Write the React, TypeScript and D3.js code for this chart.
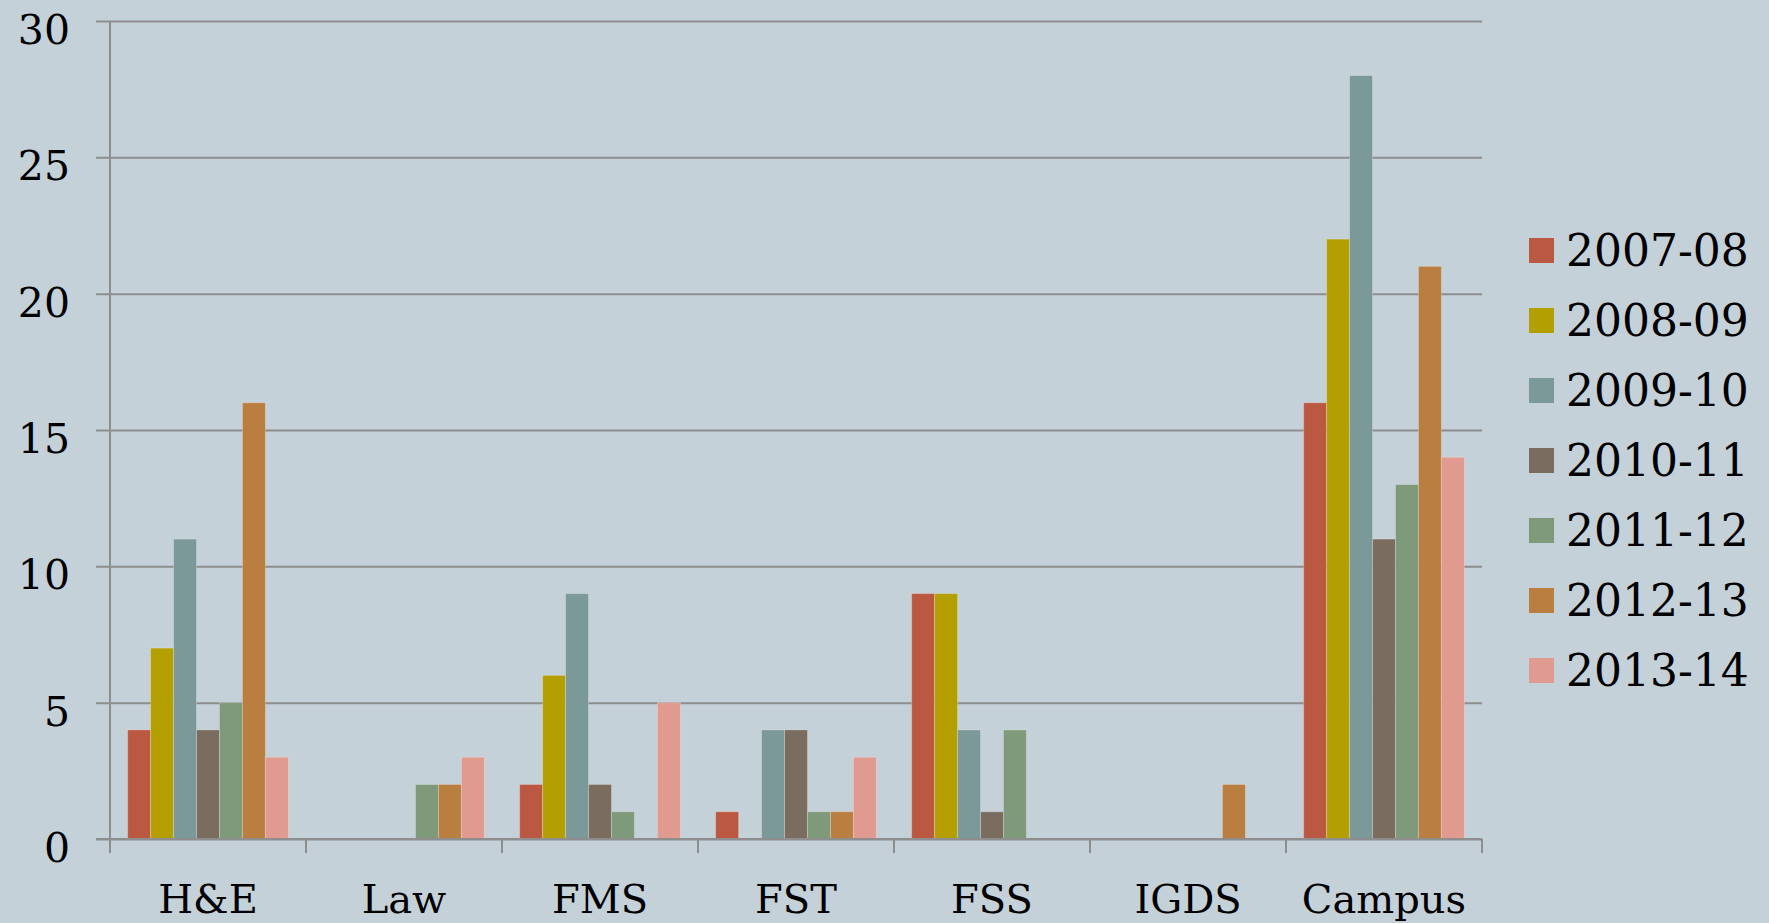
import * as d3 from 'd3';
import { useEffect, useRef } from 'react';

const categories = ['H&E', 'Law', 'FMS', 'FST', 'FSS', 'IGDS', 'Campus'];
const years = ['2007-08', '2008-09', '2009-10', '2010-11', '2011-12', '2012-13', '2013-14'];
const colors = ['#BB5841', '#B49F00', '#7B9999', '#7A6C5F', '#7F9A7A', '#B97E40', '#E09A90'];

// one array per year, in category order
const v0708 = [4, 0, 2, 1, 9, 0, 16];
const v0809 = [7, 0, 6, 0, 9, 0, 22];
const v0910 = [11, 0, 9, 4, 4, 0, 28];
const v1011 = [4, 0, 2, 4, 1, 0, 11];
const v1112 = [5, 2, 1, 1, 4, 0, 13];
const v1213 = [16, 2, 0, 1, 0, 2, 21];
const v1314 = [3, 3, 5, 3, 0, 0, 14];
const series = [v0708, v0809, v0910, v1011, v1112, v1213, v1314];

const yTicks = [0, 5, 10, 15, 20, 25, 30];

const App = () => {
  const svgRef = useRef<SVGSVGElement | null>(null);

  useEffect(() => {
    const width = 1769;
    const height = 923;
    const margin = { top: 21, right: 287, bottom: 84, left: 110 };
    const font = '"DejaVu Serif", "Liberation Serif", serif';

    const svg = d3.select(svgRef.current)
      .attr('width', width)
      .attr('height', height);
    svg.selectAll('*').remove();

    svg.append('rect')
      .attr('width', width)
      .attr('height', height)
      .attr('fill', '#C5D1D8');

    const x0 = d3.scaleBand<string>()
      .domain(categories)
      .range([margin.left, width - margin.right])
      .paddingInner(0.18)
      .paddingOuter(0.09);

    const x1 = d3.scaleBand<string>()
      .domain(years)
      .range([0, x0.bandwidth()]);

    const y = d3.scaleLinear()
      .domain([0, 30])
      .range([height - margin.bottom, margin.top]);

    // gridlines + y labels
    const yAxis = svg.append('g')
      .attr('transform', `translate(${margin.left},0)`)
      .call(d3.axisLeft(y).tickValues(yTicks).tickSize(14).tickPadding(26).tickFormat(d3.format('d')));
    yAxis.select('.domain').remove();
    yAxis.selectAll('.tick line')
      .attr('x2', -14)
      .attr('x1', width - margin.right - margin.left)
      .attr('stroke', '#8E8E8E')
      .attr('stroke-width', 2);
    yAxis.selectAll('.tick text')
      .attr('font-family', font)
      .attr('font-size', 41)
      .attr('fill', '#000')
      .attr('dy', '0.55em');

    // bars
    const groups = svg.append('g')
      .selectAll('g')
      .data(categories)
      .join('g')
      .attr('transform', (d) => `translate(${x0(d)},0)`);

    groups.selectAll('rect')
      .data((_c, i) => years.map((yr, j) => ({ yr, j, v: series[j][i] })))
      .join('rect')
      .filter((d) => d.v > 0)
      .attr('x', (d) => x1(d.yr)!)
      .attr('width', x1.bandwidth())
      .attr('y', (d) => y(d.v))
      .attr('height', (d) => y(0) - y(d.v))
      .attr('fill', (d) => colors[d.j])
      .attr('stroke', 'rgba(255,255,255,0.25)')
      .attr('stroke-width', 1);

    // x axis
    const xStep = x0.step();
    const xAxis = svg.append('g')
      .attr('transform', `translate(0,${y(0)})`);
    xAxis.append('line')
      .attr('x1', margin.left - 14)
      .attr('x2', width - margin.right)
      .attr('stroke', '#8E8E8E')
      .attr('stroke-width', 2);
    xAxis.append('line')
      .attr('x1', margin.left)
      .attr('x2', margin.left)
      .attr('y1', y(30) - y(0))
      .attr('y2', 14)
      .attr('stroke', '#8E8E8E')
      .attr('stroke-width', 2);
    xAxis.selectAll('line.tk')
      .data(categories)
      .join('line')
      .attr('class', 'tk')
      .attr('x1', (d) => x0(d)! - xStep * 0.09 + xStep)
      .attr('x2', (d) => x0(d)! - xStep * 0.09 + xStep)
      .attr('y1', 0)
      .attr('y2', 14)
      .attr('stroke', '#8E8E8E')
      .attr('stroke-width', 2);
    xAxis.selectAll('text')
      .data(categories)
      .join('text')
      .attr('x', (d) => x0(d)! + x0.bandwidth() / 2)
      .attr('y', 74)
      .attr('text-anchor', 'middle')
      .attr('font-family', font)
      .attr('font-size', 40)
      .attr('fill', '#000')
      .text((d) => d);

    // legend
    const legend = svg.append('g')
      .attr('transform', 'translate(1529,238)');
    const items = legend.selectAll('g')
      .data(years)
      .join('g')
      .attr('transform', (_d, i) => `translate(0,${i * 70})`);
    items.append('rect')
      .attr('width', 25)
      .attr('height', 25)
      .attr('fill', (_d, i) => colors[i]);
    items.append('text')
      .attr('x', 37)
      .attr('y', 28)
      .attr('font-family', font)
      .attr('font-size', 44)
      .attr('fill', '#000')
      .text((d) => d);
  }, []);

  return <svg ref={svgRef} style={{ position: 'absolute', left: 0, top: 0 }}></svg>;
};

export default App;
